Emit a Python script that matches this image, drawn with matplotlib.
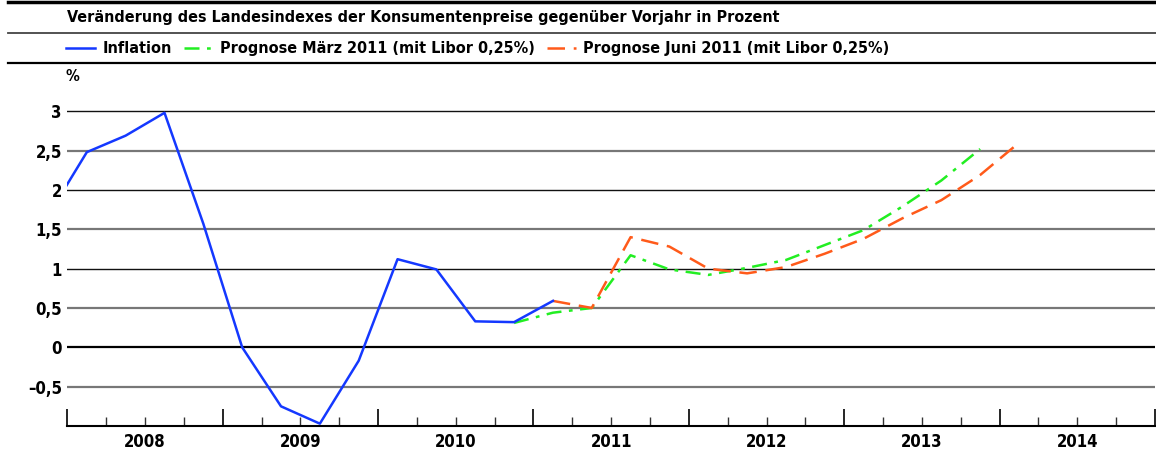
import matplotlib
matplotlib.use("Agg")
import matplotlib.pyplot as plt
from matplotlib.lines import Line2D

# quarterly values, x = middle of the quarter
infl_x = [2007.875, 2008.125, 2008.375, 2008.625, 2008.875,
          2009.125, 2009.375, 2009.625, 2009.875,
          2010.125, 2010.375, 2010.625, 2010.875, 2011.125]
infl_y = [1.67, 2.48, 2.69, 2.98, 1.57, 0.0, -0.75, -0.97, -0.17,
          1.12, 0.99, 0.33, 0.32, 0.59]

maerz_x = [2010.875, 2011.125, 2011.375, 2011.625, 2011.875,
           2012.125, 2012.375, 2012.625, 2012.875,
           2013.125, 2013.375, 2013.625, 2013.875]
maerz_y = [0.31, 0.44, 0.50, 1.17, 0.99, 0.92, 1.01, 1.11, 1.30,
           1.49, 1.79, 2.12, 2.52]

juni_x = [2011.125, 2011.375, 2011.625, 2011.875,
          2012.125, 2012.375, 2012.625, 2012.875,
          2013.125, 2013.375, 2013.625, 2013.875, 2014.125]
juni_y = [0.59, 0.50, 1.40, 1.28, 1.00, 0.94, 1.02, 1.19,
          1.38, 1.64, 1.87, 2.19, 2.60]

years = [2008, 2009, 2010, 2011, 2012, 2013, 2014]
yticks = [-0.5, 0, 0.5, 1, 1.5, 2, 2.5, 3]
ytick_labels = ["\u20130,5", "0", "0,5", "1", "1,5", "2", "2,5", "3"]

title = "Veränderung des Landesindexes der Konsumentenpreise gegenüber Vorjahr in Prozent"
labels = ["Inflation", "Prognose März 2011 (mit Libor 0,25%)",
          "Prognose Juni 2011 (mit Libor 0,25%)"]

plt.rcParams["font.family"] = ["DejaVu Sans"]
plt.rcParams["font.stretch"] = "condensed"
plt.rcParams["font.weight"] = "bold"

fig = plt.figure(figsize=(11.56, 4.55), dpi=100)
ax = fig.add_axes([0.0583, 0.0637, 0.9408, 0.7264])

# grid lines
for v in yticks:
    if v == 0:
        ax.axhline(v, color="black", lw=1.6, zorder=1)
    elif v == int(v):
        ax.axhline(v, color="#111111", lw=1.0, zorder=1)
    else:
        ax.axhline(v, color="#777777", lw=1.6, zorder=1)

l1, = ax.plot(infl_x, infl_y, color="#1438ff", lw=1.8, zorder=3)
l2, = ax.plot(maerz_x, maerz_y, color="#22ee22", lw=1.8, zorder=2,
              dashes=(6, 3, 1.5, 3))
l3, = ax.plot(juni_x, juni_y, color="#ff5a1a", lw=1.8, zorder=2,
              dashes=(7, 3.5))

ax.set_xlim(2008, 2015)
ax.set_ylim(-1, 3.2)

ax.set_yticks(yticks)
ax.set_yticklabels(ytick_labels, fontsize=12, fontweight="bold")
ax.tick_params(axis="y", length=0, pad=4)

ax.set_xticks(years + [2015])
ax.set_xticklabels([])
ax.set_xticks([y + q for y in years for q in (0.25, 0.5, 0.75)], minor=True)
ax.tick_params(axis="x", which="major", direction="in", length=12.5, width=1.2, color="black")
ax.tick_params(axis="x", which="minor", direction="in", length=6.5, width=1.0, color="#333333")
for y in years:
    ax.text(y + 0.5, -0.02, str(y), transform=ax.get_xaxis_transform(),
            ha="center", va="top", fontsize=12, fontweight="bold")

for s in ["top", "right", "left"]:
    ax.spines[s].set_visible(False)
ax.spines["bottom"].set_linewidth(1.5)

# header
fig.add_artist(Line2D([0.007, 1], [0.9967, 0.9967], color="black", lw=2.5,
                      transform=fig.transFigure))
fig.add_artist(Line2D([0.007, 1], [0.9275, 0.9275], color="#444444", lw=1.3,
                      transform=fig.transFigure))
fig.add_artist(Line2D([0.007, 1], [0.8615, 0.8615], color="black", lw=1.6,
                      transform=fig.transFigure))
fig.text(0.058, 0.961, title, fontsize=11.5, fontweight="bold", va="center", ha="left")
fig.text(0.063, 0.831, "%", fontsize=11, fontweight="bold", va="center", ha="center")

fig.legend([l1, l2, l3], labels, loc="center left", bbox_to_anchor=(0.057, 0.893),
           ncol=3, frameon=False, fontsize=11.6, handlelength=1.8,
           handletextpad=0.45, columnspacing=0.75, borderaxespad=0, borderpad=0)

fig.savefig("out.png", dpi=100)
